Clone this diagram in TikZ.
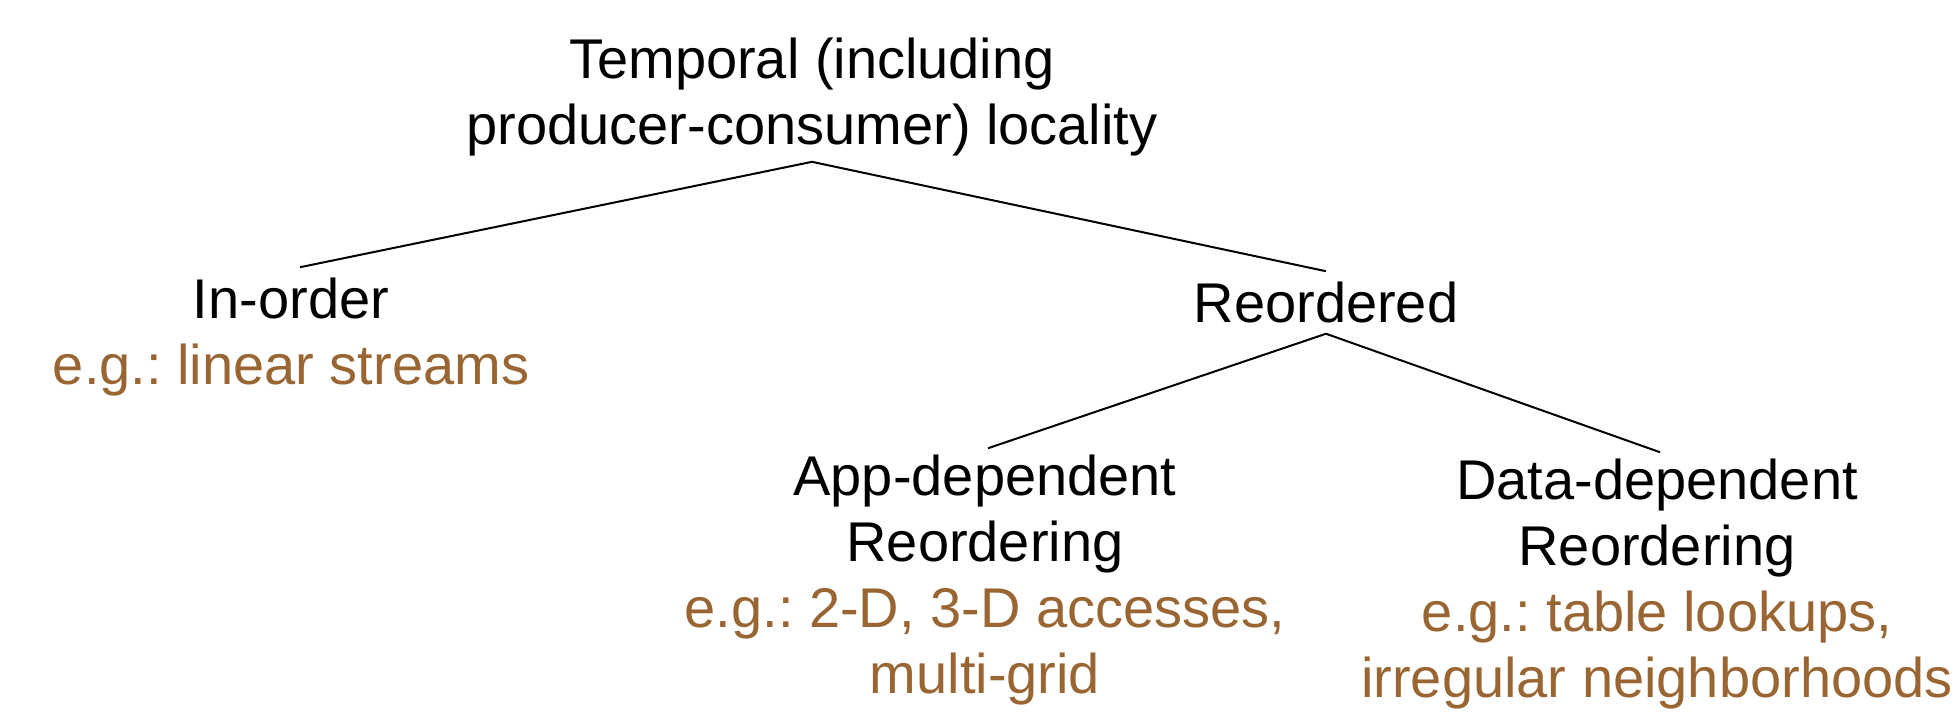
\documentclass[tikz,border=0pt]{standalone}
\usepackage{fontspec}
\setmainfont{Liberation Sans}
\frenchspacing
\definecolor{egbrown}{RGB}{153,102,51}
\tikzset{
  lbl/.style={anchor=base, align=center, inner sep=6pt, font=\fontsize{56}{66}\selectfont\frenchspacing},
  edge/.style={line width=2pt}
}
\begin{document}
\begin{tikzpicture}[x=1pt,y=1pt]
\useasboundingbox (0,0) rectangle (1959,-718);
\node[lbl] (title) at (812,-144) {Temporal (including\\producer-consumer) locality};
\node[lbl] (inorder) at (291,-384) {In-order\\\textcolor{egbrown}{e.g.: linear streams}};
\node[lbl] (reord) at (1326,-322) {Reordered};
\node[lbl] (app) at (985,-693) {App-dependent\\Reordering\\\textcolor{egbrown}{e.g.: 2-D, 3-D accesses,}\\\textcolor{egbrown}{multi-grid}};
\node[lbl] (data) at (1657,-697) {Data-dependent\\Reordering\\\textcolor{egbrown}{e.g.: table lookups,}\\\textcolor{egbrown}{irregular neighborhoods}};
\draw[edge] (title.south) -- ([xshift=9pt,yshift=4pt]inorder.north);
\draw[edge] (title.south) -- ([yshift=4pt]reord.north);
\draw[edge] ([yshift=-5pt]reord.south) -- ([xshift=3pt]app.north);
\draw[edge] ([yshift=-5pt]reord.south) -- ([xshift=3pt]data.north);
\end{tikzpicture}
\end{document}
